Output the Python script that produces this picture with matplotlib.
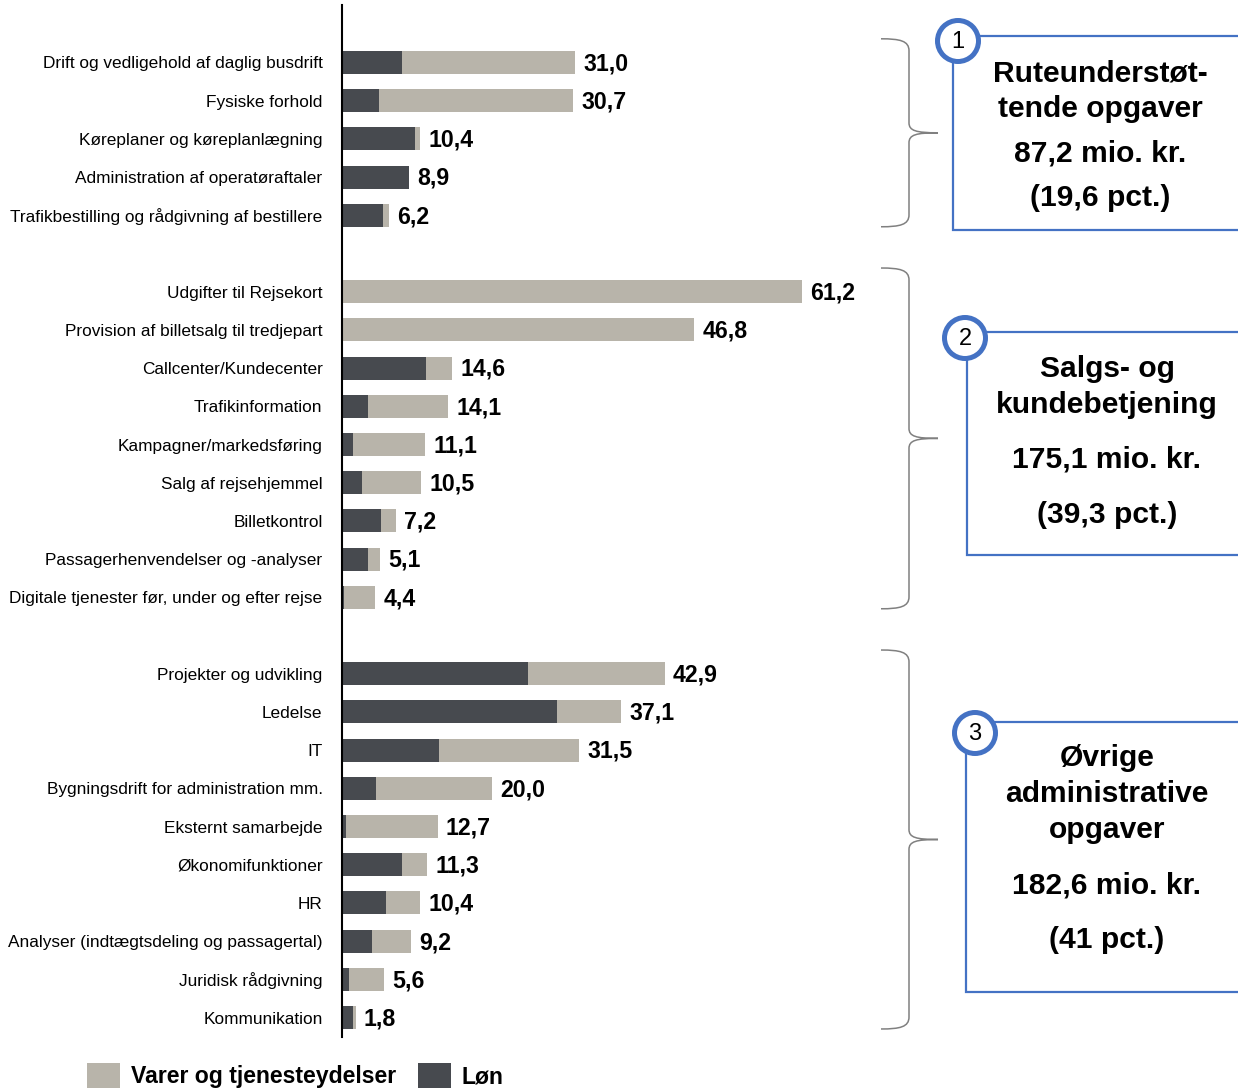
import matplotlib.pyplot as plt
from matplotlib.patches import Rectangle, Circle, PathPatch, Patch
from matplotlib.path import Path
import numpy as np

plt.rcParams['font.family'] = ['Liberation Sans', 'DejaVu Sans']

# data (mio. kr.)
labels1 = ["Drift og vedligehold af daglig busdrift", "Fysiske forhold",
           "Køreplaner og køreplanlægning", "Administration af operatøraftaler",
           "Trafikbestilling og rådgivning af bestillere"]
total1 = [31.0, 30.7, 10.4, 8.9, 6.2]
lon1 = [8.0, 4.9, 9.7, 8.9, 5.5]

labels2 = ["Udgifter til Rejsekort", "Provision af billetsalg til tredjepart",
           "Callcenter/Kundecenter", "Trafikinformation", "Kampagner/markedsføring",
           "Salg af rejsehjemmel", "Billetkontrol", "Passagerhenvendelser og -analyser",
           "Digitale tjenester før, under og efter rejse"]
total2 = [61.2, 46.8, 14.6, 14.1, 11.1, 10.5, 7.2, 5.1, 4.4]
lon2 = [0.0, 0.0, 11.2, 3.5, 1.5, 2.7, 5.2, 3.5, 0.2]

labels3 = ["Projekter og udvikling", "Ledelse", "IT", "Bygningsdrift for administration mm.",
           "Eksternt samarbejde", "Økonomifunktioner", "HR",
           "Analyser (indtægtsdeling og passagertal)", "Juridisk rådgivning", "Kommunikation"]
total3 = [42.9, 37.1, 31.5, 20.0, 12.7, 11.3, 10.4, 9.2, 5.6, 1.8]
lon3 = [24.7, 28.6, 12.9, 4.5, 0.5, 8.0, 5.9, 4.0, 0.9, 1.4]

group_titles = [["Ruteunderstøt-", "tende opgaver"],
                ["Salgs- og", "kundebetjening"],
                ["Øvrige", "administrative", "opgaver"]]
group_sums = ["87,2 mio. kr.", "175,1 mio. kr.", "182,6 mio. kr."]
group_pcts = ["(19,6 pct.)", "(39,3 pct.)", "(41 pct.)"]

c_lon = "#474a4f"
c_varer = "#b8b4aa"
c_blue = "#4472c4"

W, H = 1238, 1090
fig = plt.figure(figsize=(W / 100, H / 100), dpi=100)
ax = fig.add_axes([342 / W, 1 - 1037 / H, (W - 342) / W, (1037 - 5) / H])

groups = [(labels1, total1, lon1), (labels2, total2, lon2), (labels3, total3, lon3)]
all_pos, all_labels, spans = [], [], []
start = 0
for labels, total, lon in groups:
    pos = np.arange(start, start + len(labels))
    total = np.array(total)
    lon = np.array(lon)
    ax.barh(pos, lon, height=0.6, color=c_lon, zorder=2)
    ax.barh(pos, total - lon, left=lon, height=0.6, color=c_varer, zorder=2)
    for p, t in zip(pos, total):
        ax.annotate(f"{t:.1f}".replace(".", ","), (t, p), xytext=(6, -1),
                    textcoords="offset points", va="center", ha="left",
                    fontsize=16.7, fontweight="bold")
    all_pos.extend(pos)
    all_labels.extend(labels)
    spans.append((pos[0], pos[-1]))
    start += len(labels) + 1

ax.set_xlim(0, (W - 342) / 7.52)
ax.set_ylim(25.51, -1.505)
ax.set_yticks(all_pos)
ax.set_yticklabels(all_labels, fontsize=12.4)
ax.tick_params(axis="y", length=0, pad=14)
ax.set_xticks([])
for s in ["top", "right", "bottom"]:
    ax.spines[s].set_visible(False)
ax.spines["left"].set_linewidth(1.5)
ax.patch.set_alpha(0)

# overlay in pixel coordinates for braces and boxes
ov = fig.add_axes([0, 0, 1, 1])
ov.set_xlim(0, W)
ov.set_ylim(H, 0)
ov.axis("off")
ov.patch.set_alpha(0)


def to_px(idx):
    return H - ax.transData.transform((0, idx))[1]


def brace(top, bot, x0=881, xv=909, xt=938):
    mid = (top + bot) / 2
    verts = [(x0, top), (900, top), (xv, top + 2), (xv, top + 12),
             (xv, mid - 10),
             (xv, mid - 2), (916, mid), (xt, mid),
             (916, mid), (xv, mid + 2), (xv, mid + 10),
             (xv, bot - 12),
             (xv, bot - 2), (900, bot), (x0, bot)]
    codes = [Path.MOVETO, Path.CURVE4, Path.CURVE4, Path.CURVE4,
             Path.LINETO,
             Path.CURVE4, Path.CURVE4, Path.CURVE4,
             Path.CURVE4, Path.CURVE4, Path.CURVE4,
             Path.LINETO,
             Path.CURVE4, Path.CURVE4, Path.CURVE4]
    ov.add_patch(PathPatch(Path(verts, codes), fill=False, edgecolor="#808080", lw=1.1))


for a, b in spans:
    brace(to_px(a - 0.62), to_px(b + 0.3))

boxes = [(953, 36, 230, (958, 41), 1100, [73, 109, 153, 198]),
         (967, 332, 555, (965, 338), 1107, [369, 405, 459, 515]),
         (966, 722, 992, (975, 733), 1107, [758, 794, 830, 885, 940])]
for i, (left, top, bot, cc, tx, ys) in enumerate(boxes):
    ov.add_patch(Rectangle((left, top), 400, bot - top, fill=False,
                           edgecolor=c_blue, lw=1.6))
    ov.add_patch(Circle(cc, 20.5, facecolor="white", edgecolor=c_blue, lw=3.6, zorder=3))
    ov.text(cc[0], cc[1] + 1, str(i + 1), ha="center", va="center", fontsize=17, zorder=4)
    lines = group_titles[i] + [group_sums[i], group_pcts[i]]
    for y, line in zip(ys, lines):
        ov.text(tx, y, line, ha="center", va="center", fontsize=21.6, fontweight="bold")

handles = [Patch(facecolor=c_varer, label="Varer og tjenesteydelser"),
           Patch(facecolor=c_lon, label="Løn")]
fig.legend(handles=handles, loc="upper left", bbox_to_anchor=(87 / W, 1 - 1063 / H),
           ncol=2, frameon=False, prop={"weight": "bold", "size": 16.6},
           handlelength=1.45, handleheight=1.3, handletextpad=0.45,
           columnspacing=0.95, borderpad=0, borderaxespad=0)

fig.savefig("out.png", dpi=100)
